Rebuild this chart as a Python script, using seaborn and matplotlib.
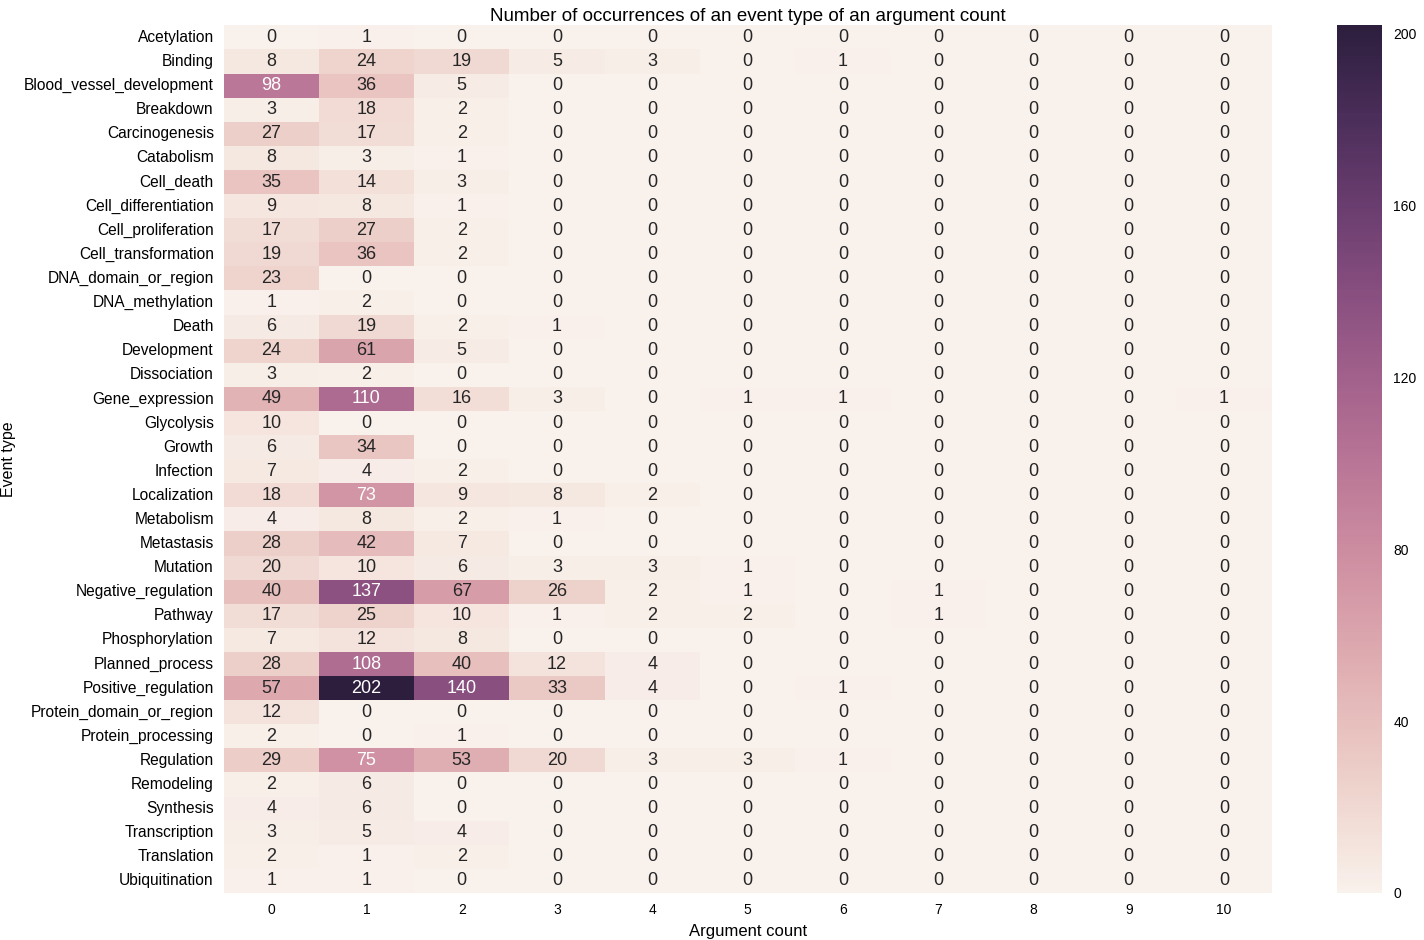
import numpy as np
import pandas as pd
import matplotlib
matplotlib.use("Agg")
import matplotlib.pyplot as plt
import seaborn as sns

event_types = [
    "Acetylation", "Binding", "Blood_vessel_development", "Breakdown",
    "Carcinogenesis", "Catabolism", "Cell_death", "Cell_differentiation",
    "Cell_proliferation", "Cell_transformation", "DNA_domain_or_region",
    "DNA_methylation", "Death", "Development", "Dissociation",
    "Gene_expression", "Glycolysis", "Growth", "Infection", "Localization",
    "Metabolism", "Metastasis", "Mutation", "Negative_regulation", "Pathway",
    "Phosphorylation", "Planned_process", "Positive_regulation",
    "Protein_domain_or_region", "Protein_processing", "Regulation",
    "Remodeling", "Synthesis", "Transcription", "Translation", "Ubiquitination",
]
arg_counts = list(range(11))

# counts per argument count (columns 0..10)
arg0 = [0, 8, 98, 3, 27, 8, 35, 9, 17, 19, 23, 1, 6, 24, 3, 49, 10, 6, 7, 18,
        4, 28, 20, 40, 17, 7, 28, 57, 12, 2, 29, 2, 4, 3, 2, 1]
arg1 = [1, 24, 36, 18, 17, 3, 14, 8, 27, 36, 0, 2, 19, 61, 2, 110, 0, 34, 4, 73,
        8, 42, 10, 137, 25, 12, 108, 202, 0, 0, 75, 6, 6, 5, 1, 1]
arg2 = [0, 19, 5, 2, 2, 1, 3, 1, 2, 2, 0, 0, 2, 5, 0, 16, 0, 0, 2, 9,
        2, 7, 6, 67, 10, 8, 40, 140, 0, 1, 53, 0, 0, 4, 2, 0]
arg3 = [0, 5, 0, 0, 0, 0, 0, 0, 0, 0, 0, 0, 1, 0, 0, 3, 0, 0, 0, 8,
        1, 0, 3, 26, 1, 0, 12, 33, 0, 0, 20, 0, 0, 0, 0, 0]
arg4 = [0, 3, 0, 0, 0, 0, 0, 0, 0, 0, 0, 0, 0, 0, 0, 0, 0, 0, 0, 2,
        0, 0, 3, 2, 2, 0, 4, 4, 0, 0, 3, 0, 0, 0, 0, 0]
arg5 = [0, 0, 0, 0, 0, 0, 0, 0, 0, 0, 0, 0, 0, 0, 0, 1, 0, 0, 0, 0,
        0, 0, 1, 1, 2, 0, 0, 0, 0, 0, 3, 0, 0, 0, 0, 0]
arg6 = [0, 1, 0, 0, 0, 0, 0, 0, 0, 0, 0, 0, 0, 0, 0, 1, 0, 0, 0, 0,
        0, 0, 0, 0, 0, 0, 0, 1, 0, 0, 1, 0, 0, 0, 0, 0]
arg7 = [0, 0, 0, 0, 0, 0, 0, 0, 0, 0, 0, 0, 0, 0, 0, 0, 0, 0, 0, 0,
        0, 0, 0, 1, 1, 0, 0, 0, 0, 0, 0, 0, 0, 0, 0, 0]
arg8 = [0] * 36
arg9 = [0] * 36
arg10 = [0, 0, 0, 0, 0, 0, 0, 0, 0, 0, 0, 0, 0, 0, 0, 1, 0, 0, 0, 0,
         0, 0, 0, 0, 0, 0, 0, 0, 0, 0, 0, 0, 0, 0, 0, 0]

columns = [arg0, arg1, arg2, arg3, arg4, arg5, arg6, arg7, arg8, arg9, arg10]
df = pd.DataFrame(np.array(columns).T, index=event_types, columns=arg_counts)

sns.set_style("white")
plt.rcParams['font.family'] = ['Liberation Sans', 'DejaVu Sans']
plt.rcParams['text.color'] = 'black'
plt.rcParams['axes.labelcolor'] = 'black'
plt.rcParams['xtick.color'] = 'black'
plt.rcParams['ytick.color'] = 'black'

fig = plt.figure(figsize=(14.24, 9.4), dpi=100)
ax = fig.add_axes([0.157, 0.050, 0.736, 0.923])
cax = fig.add_axes([0.939, 0.050, 0.0316, 0.923])

cmap = sns.cubehelix_palette(light=.95, as_cmap=True)
sns.heatmap(df, ax=ax, cbar_ax=cax, cmap=cmap, annot=True, fmt="d",
            annot_kws={"fontsize": 13}, vmin=0, vmax=df.values.max())

ax.set_title("Number of occurrences of an event type of an argument count",
             fontsize=13.5, pad=3)
ax.set_xlabel("Argument count", fontsize=12, labelpad=5)
ax.set_ylabel("Event type", fontsize=11.5, labelpad=6)
ax.tick_params(axis='x', labelsize=10, length=0, pad=7)
ax.tick_params(axis='y', labelsize=11.2, length=0, pad=7, rotation=0)

cax.set_yticks([0, 40, 80, 120, 160, 200])
cax.tick_params(labelsize=10, length=0, pad=8)
for s in cax.spines.values():
    s.set_visible(False)

fig.savefig("out.png", dpi=100)
